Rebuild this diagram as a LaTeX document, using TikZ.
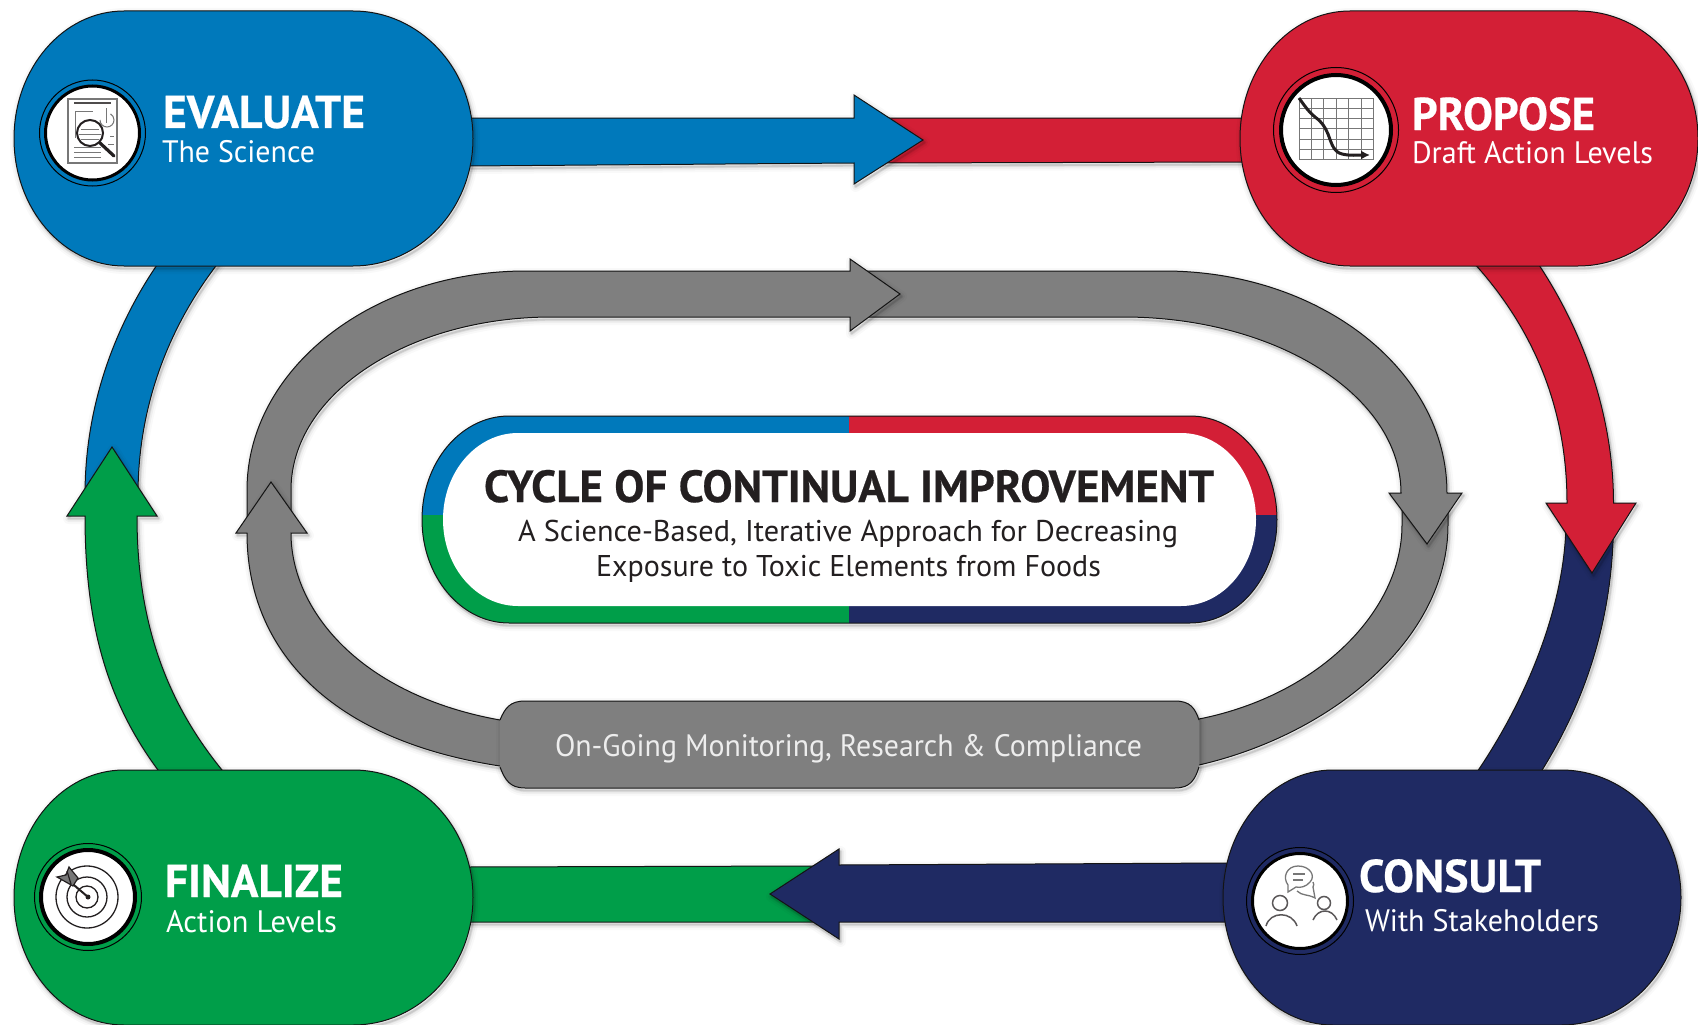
\documentclass[tikz,border=0pt]{standalone}
\usepackage{fontspec}
\setmainfont{PT Sans}
\newfontfamily\hdfont[FakeBold=0.5]{PT Sans Bold}
\usetikzlibrary{arrows.meta}
\definecolor{cblue}{HTML}{0079BB}
\definecolor{cred}{HTML}{D31F36}
\definecolor{cgreen}{HTML}{009E49}
\definecolor{cnavy}{HTML}{1F2A63}
\definecolor{cgray}{HTML}{7F7F7F}
\definecolor{cink}{HTML}{231F20}
\definecolor{cline}{HTML}{141414}
\definecolor{cicon}{HTML}{777777}
% a pill with elliptical ends
\newcommand\mkpill[7]{%
  \pgfmathsetmacro\plk{0.5523}%
  \pgfmathsetmacro\plm{(#3+#5)/2}%
  \pgfmathsetmacro\plr{(#5-#3)/2}%
  \pgfmathsetmacro\plu{\plm-\plr*\plk}%
  \pgfmathsetmacro\pld{\plm+\plr*\plk}%
  \pgfmathsetmacro\pla{#2+#6}%
  \pgfmathsetmacro\plb{#4-#7}%
  \pgfmathsetmacro\plc{#2+#6*(1-\plk)}%
  \pgfmathsetmacro\ple{#4-#7*(1-\plk)}%
  \expandafter\xdef\csname pill#1\endcsname{(\pla,#3) -- (\plb,#3) .. controls (\ple,#3) and (#4,\plu) .. (#4,\plm) .. controls (#4,\pld) and (\ple,#5) .. (\plb,#5) -- (\pla,#5) .. controls (\plc,#5) and (#2,\pld) .. (#2,\plm) .. controls (#2,\plu) and (\plc,#3) .. (\pla,#3) -- cycle}}
\mkpill{Eval}{14}{11}{473}{266}{110}{120}
\mkpill{Prop}{1240}{11}{1698}{266}{110}{120}
\mkpill{Fina}{14}{770}{473}{1025}{110}{120}
\mkpill{Cons}{1223}{770}{1681}{1025}{110}{120}
\mkpill{Outer}{422}{416}{1277}{623}{87}{87}
\mkpill{Inner}{443}{433}{1256}{606}{75}{75}
% soft shadow beneath a shape
\newcommand\shad[1]{%
  \begin{scope}[shift={(1.5,2.5)},line join=round]
    \draw[black,opacity=.025,line width=11pt] #1;
    \draw[black,opacity=.04,line width=7pt] #1;
    \draw[black,opacity=.06,line width=3.5pt] #1;
    \draw[black,opacity=.10,line width=1.8pt] #1;
  \end{scope}}
\newcommand\shp[2]{\shad{#2}\filldraw[blockshape,fill=#1] #2;}
% set text to a given width, keeping its height
\newcommand\fitw[2]{\setbox0=\hbox{#2}\pgfmathsetmacro\fitr{#1pt/\wd0}\scalebox{\fitr}[1]{\box0}}
\newcommand\hd{\fontsize{46}{50}\selectfont\hdfont}
\newcommand\sbt{\fontsize{31}{35}\selectfont}
\tikzset{
  blockshape/.style={draw=cline,line width=1pt,line join=miter},
  lbl/.style={anchor=base west,inner sep=0pt,outer sep=0pt},
  whitelbl/.style={lbl,text=white},
  darklbl/.style={lbl,text=cink},
  ringthin/.style={draw=black,line width=1pt},
  ringthick/.style={draw=black,line width=3pt,fill=white},
  iconline/.style={draw=cicon,line width=1pt},
  iconink/.style={draw=cink,line width=1.3pt},
}
\begin{document}
\begin{tikzpicture}[x=1pt,y=-1pt]
\useasboundingbox (0,0) rectangle (1698,1025);
\fill[white] (0,0) rectangle (1698,1025);

% outer arcs
\shp{cnavy}{(1566,520) .. controls (1566,600) and (1530,695) .. (1475,775) -- (1539,775) .. controls (1590,695) and (1613.5,610) .. (1613.5,520) -- cycle}
\shp{cred}{(1473,262) .. controls (1535,330) and (1567,410) .. (1567,503) -- (1546,503) -- (1592,573) -- (1636,503) -- (1613.5,503) .. controls (1613.5,420) and (1586,335) .. (1537,262) -- cycle}
\shp{cblue}{(219,262) .. controls (166,330) and (138,410) .. (138,495) -- (85,495) .. controls (85,410) and (112,330) .. (159,262) -- cycle}
\shp{cgreen}{(137,516) -- (157,516) -- (112,447) -- (67,516) -- (85,516) .. controls (85,630) and (110,705) .. (158,770) -- (158,775) -- (222,775) -- (222,770) .. controls (165,700) and (137,620) .. (137,516) -- cycle}

% straight arrows
\shp{cred}{(880,118) -- (1245,118) -- (1245,162) -- (880,163) -- cycle}
\shp{cblue}{(468,118) -- (854,118) -- (854,95) -- (923,140) -- (854,184) -- (854,163) -- (468,166) -- cycle}
\shp{cgreen}{(468,867) -- (815,866) -- (815,922) -- (468,922) -- cycle}
\shp{cnavy}{(1228,863) -- (839,865) -- (839,849) -- (770,894) -- (839,939) -- (839,922) -- (1228,922) -- cycle}

% grey loop
\shp{cgray}{(1402,505) -- (1402,525) .. controls (1402,610) and (1320,695) .. (1199,719) -- (1190,719) -- (1190,765) -- (1199,765) .. controls (1330,735) and (1448,640) .. (1448,525) -- (1448,505) -- cycle}
\shp{cgray}{(860,271) -- (1164,271) .. controls (1320,271) and (1447,370) .. (1447,493) -- (1462,493) -- (1427,544) -- (1389,493) -- (1401,493) .. controls (1401,396) and (1277,317) .. (1123,317) -- (860,317) -- cycle}
\shp{cgray}{(247,525) -- (247,490) .. controls (247,369) and (372,271) .. (526,271) -- (850,271) -- (850,259) -- (900,294) -- (850,331) -- (850,317) -- (552,317) .. controls (408,317) and (291,394) .. (291,490) -- (291,525) -- cycle}
\shp{cgray}{(510,720) -- (500,720) .. controls (360,695) and (291,610) .. (291,533) -- (307,533) -- (271,482) -- (236,533) -- (247,533) .. controls (247,650) and (330,740) .. (500,766) -- (510,766) -- cycle}

% label plate of the loop
\shad{(500,720) .. controls (505,708) and (510,701) .. (525,701) -- (1175,701) .. controls (1190,701) and (1195,708) .. (1199,720) -- (1199,767) .. controls (1195,780) and (1190,788) .. (1175,788) -- (525,788) .. controls (510,788) and (505,780) .. (500,767) -- cycle}
\fill[cgray] (500,720) .. controls (505,708) and (510,701) .. (525,701) -- (1175,701) .. controls (1190,701) and (1195,708) .. (1199,720) -- (1199,767) .. controls (1195,780) and (1190,788) .. (1175,788) -- (525,788) .. controls (510,788) and (505,780) .. (500,767) -- cycle;
\draw[blockshape] (500,720) .. controls (505,708) and (510,701) .. (525,701) -- (1175,701) .. controls (1190,701) and (1195,708) .. (1199,720);
\draw[blockshape] (1199,767) .. controls (1195,780) and (1190,788) .. (1175,788) -- (525,788) .. controls (510,788) and (505,780) .. (500,767);
\node[lbl,text=white!93!black] (loopLabel) at (555,756) {\fitw{587}{\fontsize{31}{35}\selectfont On-Going Monitoring, Research \& Compliance}};

% four stage pills
\shp{cblue}{\pillEval}
\shp{cred}{\pillProp}
\shp{cgreen}{\pillFina}
\shp{cnavy}{\pillCons}

% centre pill
\shad{\pillOuter}
\begin{scope}
  \clip \pillOuter;
  \fill[cblue] (400,400) rectangle (849,515);
  \fill[cred] (849,400) rectangle (1300,515);
  \fill[cgreen] (400,515) rectangle (849,640);
  \fill[cnavy] (849,515) rectangle (1300,640);
\end{scope}
\draw[draw=cline,line width=1pt] \pillOuter;
\fill[white] \pillInner;
\node[darklbl] (title) at (484,502) {\fitw{730}{\fontsize{45}{50}\selectfont\hdfont CYCLE OF CONTINUAL IMPROVEMENT}};
\node[darklbl] (sub1) at (518,541) {\fitw{660}{\fontsize{30}{34}\selectfont A Science-Based, Iterative Approach for Decreasing}};
\node[darklbl] (sub2) at (596,576) {\fitw{505}{\fontsize{30}{34}\selectfont Exposure to Toxic Elements from Foods}};

% stage labels
\node[whitelbl] (evalHead) at (163,128) {\fitw{202}{\hd EVALUATE}};
\node[whitelbl] (evalSub) at (162,162) {\fitw{153}{\sbt The Science}};
\node[whitelbl] (propHead) at (1412,130) {\fitw{183}{\hd PROPOSE}};
\node[whitelbl] (propSub) at (1412,163) {\fitw{241}{\sbt Draft Action Levels}};
\node[whitelbl] (finaHead) at (165,897) {\fitw{178}{\hd FINALIZE}};
\node[whitelbl] (finaSub) at (166,932) {\fitw{171}{\sbt Action Levels}};
\node[whitelbl] (consHead) at (1359,892) {\fitw{182}{\hd CONSULT}};
\node[whitelbl] (consSub) at (1365,931) {\fitw{234}{\sbt With Stakeholders}};

% icon rings
\draw[ringthin] (92.5,133) circle[radius=53];
\filldraw[ringthick] (92.5,133) circle[radius=47];
\draw[ringthin] (1336,130) circle[radius=62.5];
\filldraw[ringthick,line width=4pt] (1336,130) circle[radius=55];
\draw[ringthin] (88,897) circle[radius=53.5];
\filldraw[ringthick,line width=4pt] (88,897) circle[radius=47];
\draw[ringthin] (1300,901) circle[radius=53.5];
\filldraw[ringthick] (1300,901) circle[radius=47.5];

% evaluate: document under a lens
\draw[iconline,line width=1.4pt] (68,99) rectangle (117,163);
\draw[cink!80!white,line width=2.2pt] (74,103) -- (111,103);
\draw[iconline] (75,138) -- (75,111) -- (93,111);
\draw[iconline] (100,120) arc[start angle=180,end angle=-60,radius=7];
\draw[iconline] (106,108) -- (106,123);
\foreach \ya in {147,152,157} \draw[iconline] (74,\ya) -- (101,\ya);
\draw[iconline] (110,136) -- (114,136);
\draw[iconline] (108,144) -- (114,144);
\filldraw[fill=white,draw=cink,line width=2pt] (90,133) circle[radius=13];
\draw[iconline] (81,129) -- (99,129) (79,134) -- (101,134) (81,139) -- (99,139);
\draw[cink,line width=3.2pt,line cap=round] (100,143) -- (114,156);

% propose: falling curve on a grid
\draw[iconline] (1299,98) rectangle (1373,159);
\foreach \xa in {1311,1323,1336,1348,1361} \draw[iconline] (\xa,98) -- (\xa,159);
\foreach \ya in {108,118,128,139,149} \draw[iconline] (1299,\ya) -- (1373,\ya);
\draw[cink,line width=3pt,line join=round,-{Latex[length=9pt,width=9pt]}] (1299,98) .. controls (1306,108) and (1310,113) .. (1315,117) .. controls (1322,122) and (1325,127) .. (1328,134) .. controls (1332,145) and (1334,152) .. (1342,154) .. controls (1350,156) and (1358,155) .. (1370,155);

% finalize: target and arrow
\foreach \ra in {31,20,11} \draw[iconink] (87,897) circle[radius=\ra];
\draw[cink,line width=2pt] (88,897) -- (68,880);
\fill[cink] (88,897) circle[radius=2.5];
\filldraw[fill=cicon,draw=cink,line width=1.2pt] (69,867) -- (78,878) -- (73,886) -- (57,877) -- (66,875) -- cycle;
\draw[cink,line width=1.2pt] (67,871) -- (71,884);

% consult: two people and speech bubbles
\draw[iconline,line width=1.3pt] (1288,892) -- (1288,885) .. controls (1282,877) and (1287,866) .. (1298,866) .. controls (1310,866) and (1316,876) .. (1310,882) .. controls (1306,887) and (1300,888) .. (1296,887) -- cycle;
\draw[iconline,line width=1.1pt] (1293,874) -- (1305,874) (1293,880) -- (1303,880);
\draw[iconline,line width=1.3pt] (1297,891) .. controls (1302,896) and (1308,894) .. (1315,898) -- (1313,887) .. controls (1314,885) and (1314,884) .. (1313,882);
\draw[cink!75!white,line width=1.5pt] (1280,903) circle[radius=7.5] (1324,903) circle[radius=6.5];
\draw[cink!75!white,line width=1.5pt] (1266,926) .. controls (1270,911) and (1292,911) .. (1297,926);
\draw[cink!75!white,line width=1.5pt] (1313,920) .. controls (1318,908) and (1332,908) .. (1337,920);
\end{tikzpicture}
\end{document}
